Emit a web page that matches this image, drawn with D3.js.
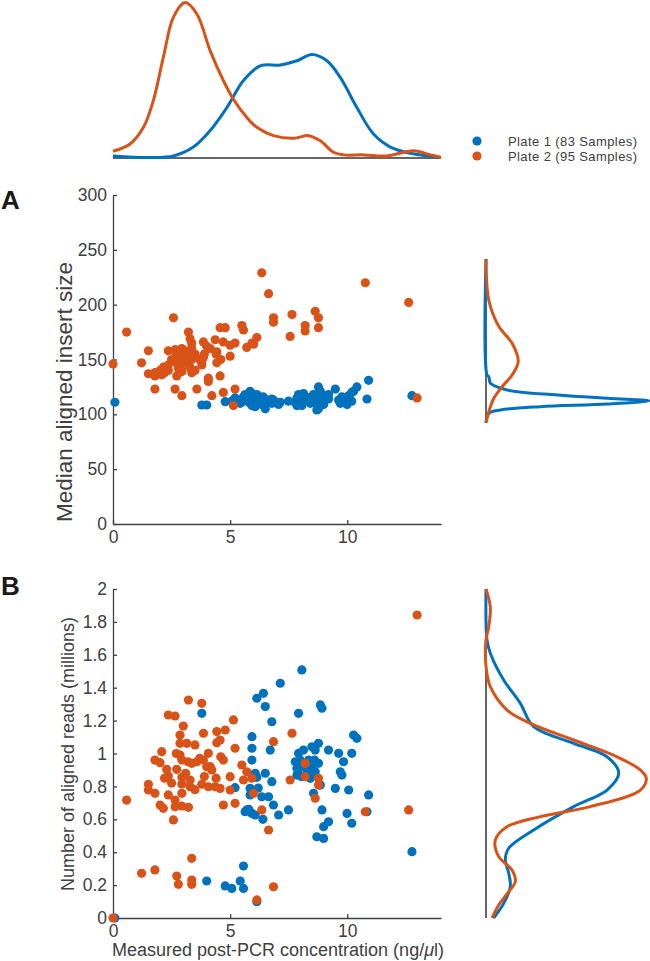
<!DOCTYPE html>
<html>
<head>
<meta charset="utf-8">
<script src="https://cdn.jsdelivr.net/npm/d3@7"></script>
<style>
  html, body { margin: 0; padding: 0; background: #fff; }
  svg { display: block; font-family: "Liberation Sans", Arial, Helvetica, sans-serif; }
</style>
</head>
<body>
<svg id="chart" width="650" height="961"></svg>
<script>
// ---------------- DATA ----------------
const seriesNames = ["Plate 1 (83 Samples)", "Plate 2 (95 Samples)"];
const seriesColors = ["#0072BD", "#D95319"];

// Plate 1 (blue)
const plate1Conc = [0.08,3.79,4.0,4.79,5.07,5.21,5.43,5.57,5.57,5.64,5.71,5.85,5.85,5.93,5.93,5.93,5.93,5.93,6.07,6.07,6.14,6.14,6.14,6.35,6.42,6.5,6.5,6.64,6.71,6.78,6.78,6.85,7.07,7.14,7.49,7.78,7.85,7.85,7.92,7.92,7.99,8.06,8.06,8.06,8.13,8.35,8.42,8.49,8.49,8.56,8.63,8.63,8.7,8.77,8.77,8.85,8.85,8.92,8.92,8.99,8.99,9.2,9.2,9.49,9.63,9.7,9.77,9.84,9.99,10.06,10.19,10.19,10.27,10.41,10.84,10.91,12.76,5.8,6.2,7.9,8.3,6.4,8.6];
const plate1Insert = [111,108.5,108.5,111.5,112,115,110,116,112,118,114,121,110,117,113,108,119,111,116,107,113,110,118,109,112,105,114,111,112,110,114,113,109,111,112,111,115,108,118,112,109,117,113,108,119,115,110,116,112,118,110,114,104,125,105,121,113,117,112,115,109,114,118,123,113,110,116,114,109,117,112,120,121,125,114,131,117,113,115,110,112,116,111];
const plate1Reads = [0.0,1.244,0.225,0.195,0.18,0.792,0.225,0.18,0.316,0.646,0.657,0.788,0.748,1.102,1.032,0.96,0.869,0.636,0.88,0.626,0.855,1.336,0.099,0.737,1.366,1.285,0.88,0.737,1.021,1.193,0.829,0.687,0.626,1.427,0.657,0.95,0.91,0.869,1.244,1.001,0.96,1.508,0.92,0.859,1.021,0.96,0.849,1.041,0.91,0.758,1.021,0.889,0.494,1.062,0.94,1.295,0.808,1.275,0.657,0.555,0.484,1.021,0.585,0.788,1.001,0.889,0.869,0.95,0.636,0.778,1.001,0.576,1.112,1.092,0.646,0.748,0.403,0.66,0.79,0.88,0.89,0.60,0.96];

// Plate 2 (orange)
const plate2Conc = [0.0,0.58,1.22,1.51,1.51,1.79,1.79,1.79,2.01,2.01,2.08,2.15,2.29,2.36,2.36,2.36,2.58,2.65,2.65,2.65,2.72,2.72,2.79,2.86,2.86,2.86,2.94,2.94,2.94,2.94,2.94,3.0,3.15,3.22,3.22,3.29,3.29,3.36,3.36,3.36,3.36,3.5,3.58,3.79,3.79,3.86,3.86,4.07,4.07,4.15,4.22,4.36,4.43,4.43,4.57,4.57,4.71,4.71,4.79,5.0,5.0,5.14,5.21,5.21,5.5,5.57,5.71,5.93,6.0,6.14,6.35,6.64,6.85,6.85,7.56,7.64,8.2,8.2,8.63,8.77,8.77,10.77,12.62,12.98,2.5,3.1,3.5,4.0,3.7,2.2,4.4,3.2,2.7,4.6,3.9];
const plate2Insert = [146,175,147,158,137,135,123,138,140,137,136,143,142,140,158,145,188,159,123,148,150,135,142,152,157,145,117,150,139,155,160,147,152,175,158,169,143,165,150,138,160,155,123,148,145,166,152,133,130,160,117,168,157,147,179,135,166,120,179,163,153,108,123,165,181,177,161,165,164,170,229,210,188,184,171,191,181,176,194,188,179,220,202,115,150,155,140,162,150,138,155,145,156,150,155];
const plate2Reads = [0.0,0.717,0.272,0.813,0.778,0.96,0.758,0.292,0.944,0.687,1.011,0.667,0.904,1.234,0.863,0.748,0.596,1.228,0.717,0.677,0.904,0.255,0.205,1.112,1.062,0.991,0.96,0.855,0.815,0.758,0.681,1.167,1.062,1.325,0.673,0.839,0.798,0.94,0.363,0.231,0.205,1.052,0.95,1.305,0.813,1.123,0.96,1.001,0.798,0.92,0.90,0.798,1.133,1.066,1.082,0.788,0.96,0.687,1.143,0.859,0.778,1.204,1.032,0.697,0.93,0.839,0.889,0.85,0.758,0.11,0.657,0.535,1.072,0.19,0.839,1.123,0.94,0.859,0.728,0.849,0.808,0.646,0.657,1.842,0.82,0.88,0.78,0.92,0.97,0.85,0.85,0.95,1.0,0.98,0.86];

// Density of concentration (top marginal)
const densConcX1 = [0,1.58,2.58,3.43,4.15,4.86,5.57,6.28,7.14,7.85,8.49,9.13,9.70,10.41,11.12,11.84,12.69,14.0];
const densConcY1 = [0.004,0.001,0.004,0.021,0.053,0.097,0.149,0.177,0.179,0.187,0.199,0.187,0.155,0.097,0.046,0.021,0.009,0.001];
const densConcX2 = [0,0.73,1.30,1.72,2.15,2.58,3.08,3.58,4.15,4.71,5.14,5.71,6.14,6.85,7.71,8.35,8.85,9.41,9.84,10.70,11.70,12.83,13.55,14.0];
const densConcY2 = [0.013,0.027,0.059,0.110,0.194,0.271,0.299,0.277,0.206,0.149,0.113,0.078,0.059,0.043,0.038,0.043,0.033,0.011,0.006,0.006,0.004,0.014,0.006,0.001];

// Density of insert size (right marginal A)
const densInsV1 = [241.6,135.9,134.3,128.3,122.2,117.6,114.6,112.4,109.4,107,104,100.9,92.4];
const densInsD1 = [0,0.0005,0.0014,0.0022,0.0105,0.0355,0.0605,0.081,0.0605,0.027,0.0072,0.0014,0];
const densInsV2 = [241.6,204,180,164.8,148,135.9,125.2,114.6,102.4,92.4];
const densInsD2 = [0,0.0014,0.0064,0.013,0.016,0.013,0.008,0.0039,0.0014,0];

// Density of aligned reads (right marginal B)
const densRdV1 = [2.0,1.69,1.61,1.447,1.305,1.163,1.062,0.98,0.88,0.778,0.677,0.535,0.424,0.353,0.272,0.19,0.089,0.0];
const densRdD1 = [0,0.0125,0.054,0.221,0.429,0.596,1.096,1.513,1.659,1.513,1.096,0.596,0.284,0.241,0.284,0.304,0.221,0.096];
const densRdV2 = [2.0,1.89,1.77,1.69,1.53,1.406,1.264,1.183,1.082,0.98,0.9,0.849,0.778,0.677,0.616,0.555,0.474,0.373,0.292,0.221,0.16,0.079,0.0];
const densRdD2 = [0,0.054,0.034,0,0,0.054,0.263,0.554,1.096,1.638,1.929,2.004,1.929,1.304,0.679,0.263,0.116,0.159,0.325,0.366,0.284,0.159,0.075];

const ticksInsert = [0,50,100,150,200,250,300];
const ticksReads = [0,0.2,0.4,0.6,0.8,1,1.2,1.4,1.6,1.8,2];
const ticksConc = [0,5,10];

// ---------------- DRAW ----------------
const svg = d3.select("#chart");
const axisColor = "#404040";
const textColor = "#404040";

const x = d3.scaleLinear().domain([0,14]).range([113,441]);
const yA = d3.scaleLinear().domain([0,300]).range([524,195]);
const yB = d3.scaleLinear().domain([0,2]).range([918,589]);
const yTop = d3.scaleLinear().domain([0,0.3]).range([158,2]);
const wA = d3.scaleLinear().domain([0,0.081]).range([486,649]);
const wB = d3.scaleLinear().domain([0,2]).range([486,646]);

function styleAxis(g) {
  g.selectAll("path.domain").attr("stroke", axisColor).attr("stroke-width", 1.3);
  g.selectAll(".tick line").attr("stroke", axisColor).attr("stroke-width", 1.3);
  g.selectAll(".tick text").attr("fill", textColor).style("font-size", "17.5px")
    .style("font-family", '"Liberation Sans", Arial, sans-serif');
}

const fmt = d => String(+d.toFixed(1));

// Panel A axes
svg.append("g").attr("transform", "translate(113,0)")
  .call(d3.axisLeft(yA).tickValues(ticksInsert).tickSize(-4).tickSizeOuter(0).tickPadding(6).tickFormat(fmt))
  .call(styleAxis);
svg.append("g").attr("transform", "translate(0,524)")
  .call(d3.axisBottom(x).tickValues(ticksConc).tickSize(-4).tickSizeOuter(0).tickPadding(7).tickFormat(fmt))
  .call(styleAxis);

// Panel B axes
svg.append("g").attr("transform", "translate(113,0)")
  .call(d3.axisLeft(yB).tickValues(ticksReads).tickSize(-4).tickSizeOuter(0).tickPadding(6).tickFormat(fmt))
  .call(styleAxis);
svg.append("g").attr("transform", "translate(0,918)")
  .call(d3.axisBottom(x).tickValues(ticksConc).tickSize(-4).tickSizeOuter(0).tickPadding(7).tickFormat(fmt))
  .call(styleAxis);

// Scatter points
const plates = [
  {conc: plate1Conc, ins: plate1Insert, rd: plate1Reads, color: seriesColors[0]},
  {conc: plate2Conc, ins: plate2Insert, rd: plate2Reads, color: seriesColors[1]}
];
const R = 4.6;
plates.forEach(p => {
  const idx = d3.range(p.conc.length);
  svg.append("g").selectAll("circle").data(idx).join("circle")
    .attr("cx", i => x(p.conc[i])).attr("cy", i => yA(p.ins[i])).attr("r", R).attr("fill", p.color);
});
plates.forEach(p => {
  const idx = d3.range(p.conc.length);
  svg.append("g").selectAll("circle").data(idx).join("circle")
    .attr("cx", i => x(p.conc[i])).attr("cy", i => yB(p.rd[i])).attr("r", R).attr("fill", p.color);
});

// Top marginal density
svg.append("line").attr("x1", x(0)).attr("x2", x(14)).attr("y1", yTop(0)).attr("y2", yTop(0))
  .attr("stroke", "#333").attr("stroke-width", 1.5);
const lineTop = d3.line().curve(d3.curveCatmullRom.alpha(0.5));
[[densConcX1, densConcY1, 0],[densConcX2, densConcY2, 1]].forEach(([xs, ds, k]) => {
  svg.append("path")
    .attr("d", lineTop(xs.map((v,i) => [x(v), yTop(ds[i])])))
    .attr("fill", "none").attr("stroke", seriesColors[k]).attr("stroke-width", 3);
});

// Right marginal A
svg.append("line").attr("x1", wA(0)).attr("x2", wA(0)).attr("y1", yA(241.6)).attr("y2", yA(92.4))
  .attr("stroke", "#333").attr("stroke-width", 1.5);
[[densInsV1, densInsD1, 0],[densInsV2, densInsD2, 1]].forEach(([vs, ds, k]) => {
  svg.append("path")
    .attr("d", lineTop(vs.map((v,i) => [wA(ds[i]), yA(v)])))
    .attr("fill", "none").attr("stroke", seriesColors[k]).attr("stroke-width", 3);
});

// Right marginal B
svg.append("line").attr("x1", wB(0)).attr("x2", wB(0)).attr("y1", yB(2)).attr("y2", yB(0))
  .attr("stroke", "#333").attr("stroke-width", 1.5);
[[densRdV1, densRdD1, 0],[densRdV2, densRdD2, 1]].forEach(([vs, ds, k]) => {
  svg.append("path")
    .attr("d", lineTop(vs.map((v,i) => [wB(ds[i]), yB(v)])))
    .attr("fill", "none").attr("stroke", seriesColors[k]).attr("stroke-width", 3);
});

// Legend
seriesNames.forEach((name, i) => {
  const cy = 141 + i * 15;
  svg.append("circle").attr("cx", 477).attr("cy", cy).attr("r", 4.6).attr("fill", seriesColors[i]);
  svg.append("text").attr("x", 508).attr("y", cy + 4.5).text(name)
    .attr("fill", textColor).style("font-size", "13px").style("letter-spacing", "0.4px");
});

// Axis labels
svg.append("text").attr("transform", "translate(72,392) rotate(-90)")
  .attr("text-anchor", "middle").attr("fill", textColor).style("font-size", "22.5px")
  .text("Median aligned insert size");
svg.append("text").attr("transform", "translate(74,754) rotate(-90)")
  .attr("text-anchor", "middle").attr("fill", textColor).style("font-size", "18px")
  .text("Number of aligned reads (millions)");
const xl = svg.append("text").attr("x", 278).attr("y", 956)
  .attr("text-anchor", "middle").attr("fill", textColor).style("font-size", "18px");
xl.append("tspan").text("Measured post-PCR concentration (ng/");
xl.append("tspan").style("font-style", "italic").text("μ");
xl.append("tspan").text("l)");

// Panel letters
svg.append("text").attr("x", 1).attr("y", 209).text("A")
  .style("font-size", "26px").style("font-weight", "bold").attr("fill", "#1a1a1a");
svg.append("text").attr("x", 1).attr("y", 595).text("B")
  .style("font-size", "26px").style("font-weight", "bold").attr("fill", "#1a1a1a");
</script>
</body>
</html>
